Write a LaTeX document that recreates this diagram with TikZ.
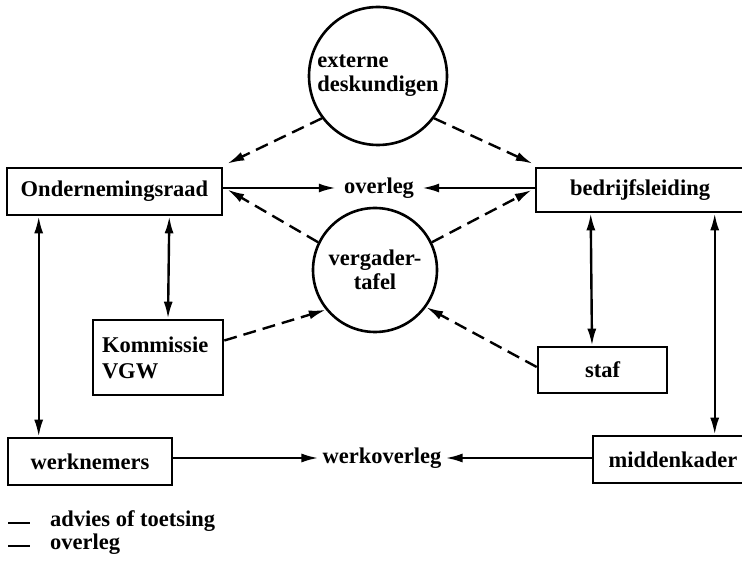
\documentclass[tikz,border=0pt]{standalone}
\usepackage{fontspec}
\setmainfont{Liberation Serif}
\usetikzlibrary{arrows.meta,calc}
\begin{document}
\begin{tikzpicture}[x=1pt,y=-1pt,
  every node/.style={font=\fontsize{22.5}{24}\selectfont\bfseries},
  box/.style={draw,line width=2.6pt,rectangle,inner sep=0pt},
  circ/.style={draw,line width=2.6pt,circle,inner sep=0pt},
  lbl/.style={inner sep=4pt},
  conn/.style={line width=2.4pt,-{Latex[length=17pt,width=9pt]}},
  dconn/.style={conn,dash pattern=on 13pt off 7pt},
  both/.style={line width=2.4pt,{Latex[length=17pt,width=9pt]}-{Latex[length=17pt,width=9pt]}}]
\useasboundingbox (0,0) rectangle (742,577);
\clip (0,0) rectangle (742,577);
% nodes
\node[circ,minimum size=138pt,align=left] (ext) at (378,76) {externe\\[0pt]deskundigen};
\node[circ,minimum size=124pt,align=center] (verg) at (375,270) {vergader-\\[0pt]tafel};
\node[box,minimum width=215pt,minimum height=47pt] (OR) at (114.5,191.5) {Ondernemingsraad};
\node[box,minimum width=208pt,minimum height=44pt] (BL) at (640,190) {bedrijfsleiding};
\node[box,minimum width=130pt,minimum height=75pt,align=left,text width=112pt] (KV) at (158,357.5) {Kommissie\\[2pt]VGW};
\node[box,minimum width=129pt,minimum height=46pt] (ST) at (602.5,370) {staf};
\node[box,minimum width=164pt,minimum height=47pt] (WN) at (90,461.5) {werknemers};
\node[box,minimum width=160pt,minimum height=47pt] (MK) at (673,459.5) {middenkader};
\node[lbl] (ov) at (379,188) {overleg};
\node[lbl] (wo) at (382,458) {werkoverleg};
% solid horizontal
\draw[conn] (OR.east |- ov.west) -- ([xshift=-4pt]ov.west);
\draw[conn] (BL.west |- ov.east) -- ([xshift=4pt]ov.east);
\draw[conn] (WN.east |- wo.west) -- (wo.west);
\draw[conn] (MK.west |- wo.east) -- (wo.east);
% vertical double
\draw[both] ([xshift=33pt]OR.south west) -- ([xshift=32pt]WN.north west);
\draw[both] ([xshift=-54pt]OR.south east) -- ([xshift=10pt]KV.north);
\draw[both] ([xshift=56pt]BL.south west) -- ([xshift=-10.5pt]ST.north);
\draw[both] ([xshift=180pt]BL.south west) -- ([xshift=123pt]MK.north west);
% dashed
\draw[dconn] (ext.217) -- ([xshift=4pt,yshift=3pt]OR.north east);
\draw[dconn] (ext.323) -- ([xshift=-2pt,yshift=3pt]BL.north west);
\draw[dconn] (verg.154) -- ([xshift=4pt,yshift=2pt]OR.east);
\draw[dconn] (verg.26) -- ([xshift=-3pt]BL.west);
\draw[dconn] ([yshift=17pt]KV.east) -- (verg.219);
\draw[dconn] ([yshift=3pt]ST.west) -- (verg.324);
% legend
\node[anchor=west,inner sep=0pt] (l1) at (50,521) {advies of toetsing};
\node[anchor=west,inner sep=0pt] (l2) at (50,544) {overleg};
\coordinate (a1) at (8,523);
\coordinate (a2) at (8,546);
\draw[line width=2.4pt] (a1) -- ++(22,0);
\draw[line width=2.4pt] (a2) -- ++(22,0);
\end{tikzpicture}
\end{document}
